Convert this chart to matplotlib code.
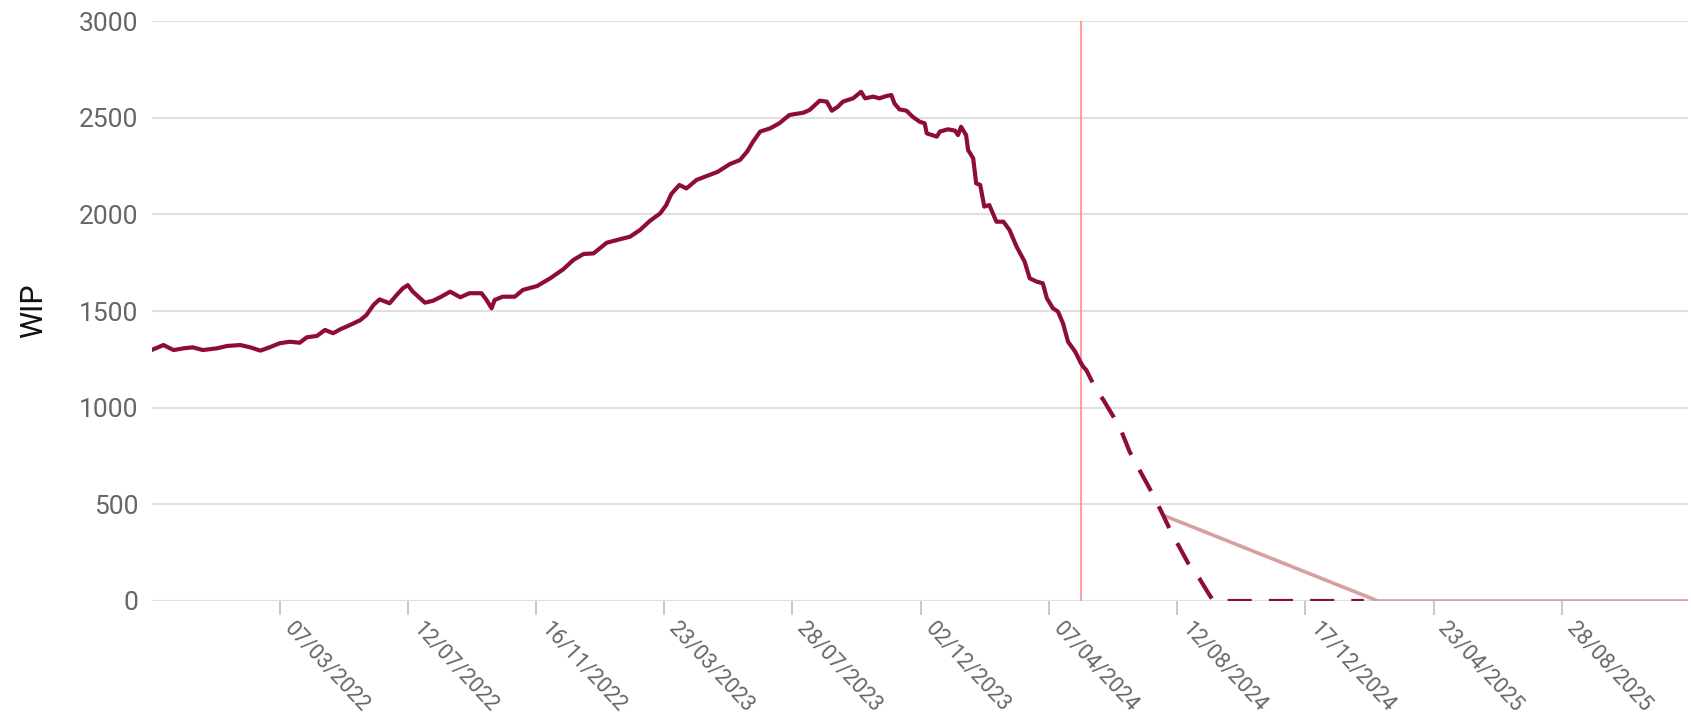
import matplotlib

matplotlib.use("Agg")
import matplotlib.pyplot as plt
import numpy as np

plt.rcParams["font.family"] = ["Roboto", "DejaVu Sans"]

# days counted from the first day shown on the chart
start = np.datetime64("2021-11-01")
end_day = 1521
today_day = 920

actual_day = [
    1, 11, 21, 31, 40, 50, 64, 74, 87, 97, 107, 116, 126, 136, 146, 153, 163, 171,
    179, 186, 196, 206, 212, 219, 225, 235, 242, 248, 253, 258, 270, 278, 285, 295,
    305, 314, 326, 331, 336, 339, 347, 359, 367, 381, 394, 407, 417, 427, 437, 450,
    463, 473, 483, 493, 503, 509, 514, 522, 529, 539, 560, 572, 582, 589, 595, 602,
    612, 621, 631, 645, 651, 661, 668, 673, 679, 684, 694, 702, 706, 714, 720, 727,
    732, 735, 740, 747, 753, 760, 765, 767, 777, 780, 788, 795, 798, 801, 806, 808,
    813, 816, 820, 824, 829, 836, 843, 849, 856, 864, 869, 876, 882, 886, 892, 897,
    902, 907, 914, 919,
]
actual_wip = [
    1302, 1324, 1298, 1307, 1312, 1298, 1307, 1319, 1324, 1312, 1295, 1312, 1333,
    1341, 1336, 1364, 1371, 1402, 1385, 1405, 1428, 1453, 1479, 1531, 1560, 1540,
    1583, 1617, 1634, 1600, 1543, 1553, 1571, 1600, 1571, 1592, 1592, 1557, 1514,
    1557, 1574, 1574, 1609, 1629, 1669, 1716, 1764, 1795, 1798, 1853, 1871, 1884,
    1919, 1967, 2005, 2048, 2105, 2152, 2134, 2178, 2220, 2260, 2281, 2324, 2376,
    2428, 2445, 2471, 2514, 2526, 2540, 2588, 2583, 2536, 2557, 2583, 2600, 2634,
    2600, 2609, 2600, 2612, 2617, 2574, 2543, 2536, 2505, 2479, 2471, 2419, 2402,
    2428, 2440, 2433, 2410, 2453, 2410, 2333, 2290, 2160, 2152, 2040, 2048, 1962,
    1962, 1919, 1833, 1755, 1669, 1652, 1643, 1566, 1514, 1497, 1436, 1341, 1290,
    1238,
]

forecast_day = [919, 922, 925, 935, 942, 952, 960, 968, 975, 985, 993, 1001, 1009,
                1018, 1026, 1037, 1046, 1051, 1200]
forecast_wip = [1238, 1212, 1195, 1091, 1040, 953, 876, 772, 703, 609, 531, 445, 358,
                272, 195, 117, 40, 0, 0]

trend_day = [1003, 1214, 1521]
trend_wip = [440, 0, 0]

tick_labels = ["07/03/2022", "12/07/2022", "16/11/2022", "23/03/2023", "28/07/2023",
               "02/12/2023", "07/04/2024", "12/08/2024", "17/12/2024", "23/04/2025",
               "28/08/2025"]


def to_dates(days):
    return start + np.array(days).astype("timedelta64[D]")


tick_dates = np.array(
    [np.datetime64(f"{s[6:]}-{s[3:5]}-{s[:2]}") for s in tick_labels]
)

fig = plt.figure(figsize=(16.91, 7.2), dpi=100)
ax = fig.add_axes([0.0901, 0.1653, 0.9081, 0.8055])

line_color = "#8e0c3a"
ax.plot(to_dates(actual_day), actual_wip, color=line_color, lw=3.0, zorder=4)
ax.plot(to_dates(forecast_day), forecast_wip, color=line_color, lw=3.0,
        dashes=(5.8, 4.1), zorder=4)
ax.plot(to_dates(trend_day), trend_wip, color="#d4a0a0", lw=2.6, zorder=3)
ax.axvline(to_dates([today_day])[0], color="#ff8c8c", lw=1.2, zorder=2)

ax.set_xlim(start, to_dates([end_day])[0])
ax.set_ylim(0, 3000)
ax.set_yticks([0, 500, 1000, 1500, 2000, 2500, 3000])
ax.yaxis.grid(True, color="#e0e0e0", lw=1.5)
ax.set_axisbelow(True)
for s in ax.spines.values():
    s.set_visible(False)

ax.set_xticks(tick_dates)
ax.set_xticklabels(tick_labels, rotation=-47, ha="left", va="bottom",
                   rotation_mode="anchor")
ax.tick_params(axis="x", length=10, width=1.2, color="#c0c0c0", pad=13,
               labelsize=15.5, labelcolor="#666666")
ax.tick_params(axis="y", length=0, pad=10, labelsize=19, labelcolor="#666666")
ax.set_ylabel("WIP", fontsize=22, color="#111111", labelpad=22)

fig.savefig("out.png", dpi=100)
